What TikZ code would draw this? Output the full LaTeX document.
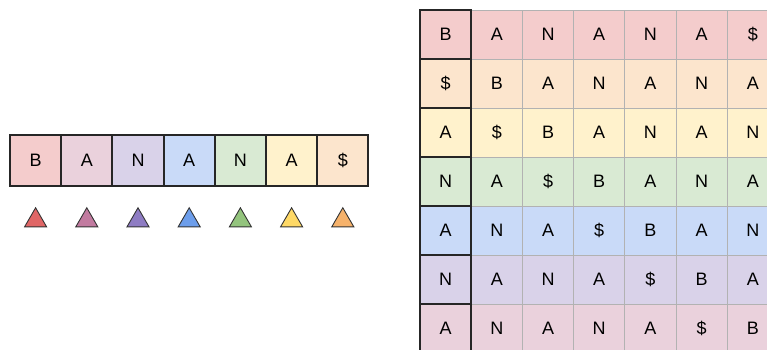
\documentclass[tikz,border=0pt]{standalone}
\usepackage{fontspec}
\setmainfont{Liberation Sans}
\usetikzlibrary{shapes.geometric}

\definecolor{lred}{HTML}{F4CCCC}
\definecolor{lmagenta}{HTML}{EAD1DC}
\definecolor{lpurple}{HTML}{D9D2E9}
\definecolor{lblue}{HTML}{C9DAF8}
\definecolor{lgreen}{HTML}{D9EAD3}
\definecolor{lyellow}{HTML}{FFF2CC}
\definecolor{lorange}{HTML}{FCE5CD}
\definecolor{dred}{HTML}{E06666}
\definecolor{dmagenta}{HTML}{C27BA0}
\definecolor{dpurple}{HTML}{8E7CC3}
\definecolor{dblue}{HTML}{6D9EEB}
\definecolor{dgreen}{HTML}{93C47D}
\definecolor{dyellow}{HTML}{FFD966}
\definecolor{dorange}{HTML}{F6B26B}

\tikzset{
	letterbox/.style={draw=black!85,line width=2pt,minimum width=51.2pt,minimum height=51pt,
		inner sep=0pt,outer sep=0pt,font=\fontsize{18}{20}\selectfont},
	gridcell/.style={draw=black!30,line width=1pt,minimum width=51.2pt,minimum height=49pt,
		inner sep=0pt,outer sep=0pt,font=\fontsize{18}{20}\selectfont},
	pointer/.style={regular polygon,regular polygon sides=3,minimum size=25.5pt,
		inner sep=0pt,draw=black!80,line width=0.9pt}
}

\begin{document}
\begin{tikzpicture}[x=1pt,y=-1pt]
\useasboundingbox (0,0) rectangle (767,349);
\clip (0,0) rectangle (767,349);

% the word
\foreach \ch/\fc/\tc [count=\i from 0] in {B/lred/dred,A/lmagenta/dmagenta,N/lpurple/dpurple,
	A/lblue/dblue,N/lgreen/dgreen,A/lyellow/dyellow,\$/lorange/dorange}
{
	\node[letterbox,fill=\fc] (w\i) at (35.6+51.2*\i,160.5) {\ch};
	\node[pointer,fill=\tc] (t\i) at (35.6+51.2*\i,220.5) {};
}

% rotations
\foreach \r/\rc/\word in {
	0/lred/{B,A,N,A,N,A,\$},
	1/lorange/{\$,B,A,N,A,N,A},
	2/lyellow/{A,\$,B,A,N,A,N},
	3/lgreen/{N,A,\$,B,A,N,A},
	4/lblue/{A,N,A,\$,B,A,N},
	5/lpurple/{N,A,N,A,\$,B,A},
	6/lmagenta/{A,N,A,N,A,\$,B}}
{
	\foreach \ch [count=\c from 0] in \word
		\node[gridcell,fill=\rc] (g\r-\c) at (445.6+51.2*\c,34.5+49*\r) {\ch};
}

% first column
\foreach \r in {0,...,6}
	\draw[black!85,line width=2pt] (g\r-0.north west) rectangle (g\r-0.south east);

\end{tikzpicture}
\end{document}
